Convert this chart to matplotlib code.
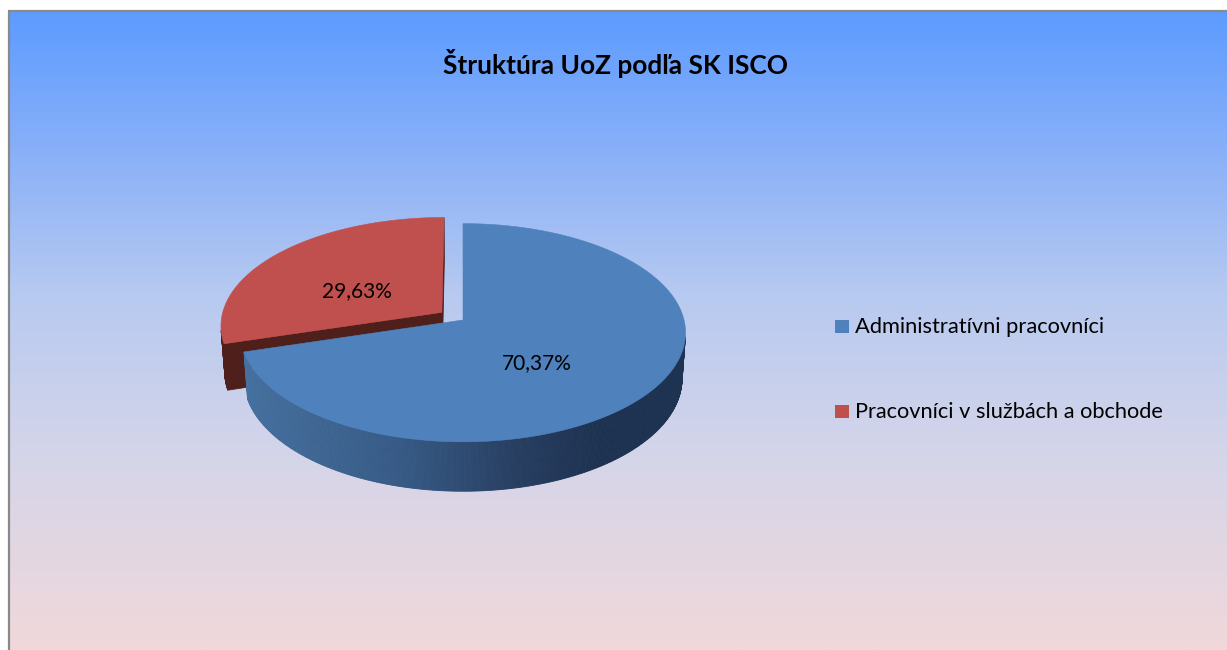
import numpy as np
import matplotlib
matplotlib.use('Agg')
import matplotlib.pyplot as plt
from matplotlib.patches import Polygon, Rectangle
from matplotlib.colors import to_rgb

# ---------------- data ----------------
title = "Štruktúra UoZ podľa SK ISCO"
categories = ["Administratívni pracovníci", "Pracovníci v službách a obchode"]
values = [70.37, 29.63]
value_labels = ["70,37%", "29,63%"]
top_colors = ["#4f81bd", "#c0504d"]
explode = [0.0, 0.12]

# ---------------- figure ----------------
W, H = 1227, 650
fig = plt.figure(figsize=(W / 100, H / 100), dpi=100)
ax = fig.add_axes([0, 0, 1, 1])
ax.set_xlim(0, W)
ax.set_ylim(H, 0)
ax.axis('off')
fig.patch.set_facecolor('white')

# background gradient
stops = [(0.0, "#5c9bff"), (0.22, "#89b0f8"), (0.45, "#b8caf0"),
         (0.7, "#d5d5e9"), (1.0, "#f0d8da")]
ny = 400
ys = np.linspace(0, 1, ny)
grad = np.zeros((ny, 1, 3))
for ch in range(3):
    grad[:, 0, ch] = np.interp(ys, [s[0] for s in stops],
                               [to_rgb(s[1])[ch] for s in stops])
ax.imshow(grad, extent=(8, W, H, 10), aspect='auto', zorder=0,
          interpolation='bilinear')
ax.plot([8.5, 8.5], [H, 10.5], color='#898989', lw=1.6, zorder=1,
        solid_capstyle='butt')
ax.plot([8, W], [10.5, 10.5], color='#898989', lw=1.6, zorder=1,
        solid_capstyle='butt')

# ---------------- 3D pie geometry ----------------
VX, VY, S = 463.0, 320.0, 221.0
sin_e = 0.487
cos_e = np.sqrt(1 - sin_e ** 2)
D = 7.5
h = 0.24
CAM = np.array([0.0, -D * cos_e, D * sin_e])


def proj(p):
    x, y, z = p
    depth = D + y * cos_e - z * sin_e
    k = D / depth * S
    return (VX + x * k, VY - (y * sin_e + z * cos_e) * k)


def lerp_color(stops_, t):
    t = min(max(t, 0), 1)
    pos = [s[0] for s in stops_]
    return tuple(np.interp(t, pos, [to_rgb(s[1])[c] for s in stops_]) for c in range(3))


blue_wall = [(0.0, "#46709f"), (0.35, "#365a85"), (0.6, "#283f62"),
             (0.8, "#1d3150"), (1.0, "#1e3352")]
dark_red = "#4f1f1c"
dark_blue = "#2a4466"

total = sum(values)
start = 90.0
slices = []
cum = 0.0
for i, v in enumerate(values):
    a0 = start - cum / total * 360.0
    a1 = a0 - v / total * 360.0
    cum += v
    mid = np.radians((a0 + a1) / 2)
    slices.append(dict(i=i, a0=a0, a1=a1, ox=explode[i] * np.cos(mid),
                       oy=explode[i] * np.sin(mid), back=np.sin(mid)))

# draw farther slices first
zbase = 5
for sl in sorted(slices, key=lambda d: -d['back']):
    i = sl['i']
    ox, oy = sl['ox'], sl['oy']
    n = max(int(abs(sl['a1'] - sl['a0'])), 10) * 2
    th = np.radians(np.linspace(sl['a0'], sl['a1'], n))
    top = [np.array([ox + np.cos(t), oy + np.sin(t), 0.0]) for t in th]
    bot = [np.array([ox + np.cos(t), oy + np.sin(t), -h]) for t in th]
    vt = np.array([ox, oy, 0.0])
    vb = np.array([ox, oy, -h])

    faces = []
    # outer wall segments
    for j in range(n - 1):
        quad = [top[j], top[j + 1], bot[j + 1], bot[j]]
        c = np.mean(quad, axis=0)
        tm = (th[j] + th[j + 1]) / 2
        nrm = np.array([np.cos(tm), np.sin(tm), 0.0])
        if np.dot(nrm, CAM - c) <= 0:
            continue
        pts = [proj(p) for p in quad]
        if i == 0:
            xc = np.mean([p[0] for p in pts])
            col = lerp_color(blue_wall, (xc - 245) / (690 - 245))
        else:
            col = to_rgb(dark_red)
        faces.append((pts, col))
    # radial faces
    for ang, sgn in ((sl['a0'], 90.0), (sl['a1'], -90.0)):
        r = np.radians(ang)
        pe_t = np.array([ox + np.cos(r), oy + np.sin(r), 0.0])
        pe_b = np.array([ox + np.cos(r), oy + np.sin(r), -h])
        quad = [vt, pe_t, pe_b, vb]
        c = np.mean(quad, axis=0)
        rn = np.radians(ang + sgn)
        nrm = np.array([np.cos(rn), np.sin(rn), 0.0])
        if np.dot(nrm, CAM - c) <= 0:
            continue
        col = to_rgb(dark_red if i == 1 else dark_blue)
        faces.append(([proj(p) for p in quad], col))

    for pts, col in faces:
        ax.add_patch(Polygon(pts, closed=True, facecolor=col, edgecolor=col,
                             lw=0.6, zorder=zbase))
    top_pts = [proj(vt)] + [proj(p) for p in top]
    ax.add_patch(Polygon(top_pts, closed=True, facecolor=top_colors[i],
                         edgecolor=top_colors[i], lw=0.4, zorder=zbase + 1))
    zbase += 2

# ---------------- texts ----------------
fam = ['Lato', 'DejaVu Sans']
renderer = fig.canvas.get_renderer()


def fit(t, target_w):
    bb = t.get_window_extent(renderer)
    t.set_fontsize(t.get_fontsize() * target_w / bb.width)


t = ax.text(615.5, 74.5, title, ha='center', va='baseline', fontsize=18,
            fontweight='bold', family=fam, color='black', zorder=20)
fit(t, 345)

label_pos = [(537, 369), (357, 297)]
for lab, (x, y) in zip(value_labels, label_pos):
    t = ax.text(x, y, lab, ha='center', va='baseline', fontsize=14,
                family=fam, color='black', zorder=20)
    fit(t, 70)

leg_y = [333.3, 418.0]
leg_w = [252, 311]
for cat, col, y, w in zip(categories, top_colors, leg_y, leg_w):
    ax.add_patch(Rectangle((835, y - 13.5), 14, 13.5, facecolor=col,
                           edgecolor='none', zorder=20))
    t = ax.text(855, y, cat, ha='left', va='baseline', fontsize=14,
                family=fam, color='black', zorder=20)
    fit(t, w)

fig.savefig('out.png', dpi=100)
